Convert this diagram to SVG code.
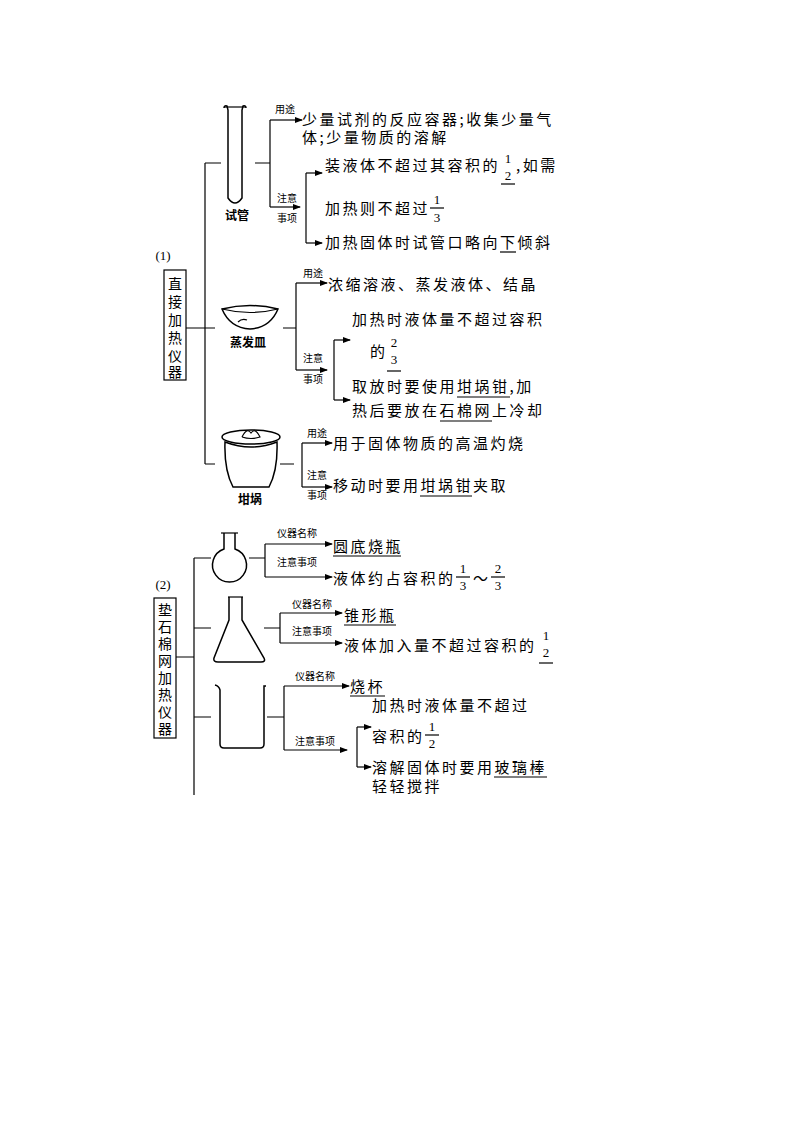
<svg xmlns="http://www.w3.org/2000/svg" width="794" height="1123" viewBox="0 0 794 1123">
<defs>
<marker id="ah" markerWidth="8" markerHeight="6" refX="7" refY="3" orient="auto" markerUnits="userSpaceOnUse"><path d="M0,0 L8,3 L0,6 Z" fill="#000"/></marker>
<style>
.l{stroke:#000;stroke-width:1.2;fill:none}
.a{stroke:#000;stroke-width:1.2;fill:none;marker-end:url(#ah)}
.s{stroke:#000;stroke-width:1.5;fill:#fff}
text{font-family:"Noto Sans CJK SC","Liberation Serif",serif;fill:#000}
.t{font-size:15px;letter-spacing:2.5px}
.f{font-size:13px;font-family:"Liberation Serif",serif}
.sm{font-size:10px}
.b{font-size:14px}
.lb{font-size:12px;font-weight:bold}
</style>
</defs>
<rect width="794" height="1123" fill="#fff"/>

<g id="connectors">
<path class="l" d="M186,328 H205 M205,163 V464 M205,163 H221 M205,328 H215 M205,464 H215"/>
<path class="l" d="M255,163 H270 M270,120 V207"/>
<path class="a" d="M270,120 H302"/>
<path class="a" d="M270,207 H300"/>
<path class="l" d="M306,173 V243"/>
<path class="a" d="M306,173 H322"/>
<path class="a" d="M306,243 H322"/>
<path class="l" d="M283,328 H296 M296,283 V370"/>
<path class="a" d="M296,283 H327"/>
<path class="a" d="M296,370 H327"/>
<path class="l" d="M334,340 V400"/>
<path class="a" d="M334,340 H350"/>
<path class="a" d="M334,400 H350"/>
<path class="l" d="M280,464 H294 M302,443 V487"/>
<path class="a" d="M302,443 H332"/>
<path class="a" d="M302,487 H332"/>
<path class="l" d="M176,657 H194 M194,558 V795 M194,558 H211 M194,628 H211 M194,717 H211"/>
<path class="l" d="M249,558 H265 M265,544 V577"/>
<path class="a" d="M265,544 H332"/>
<path class="a" d="M265,577 H332"/>
<path class="l" d="M264,628 H280 M280,613 V643"/>
<path class="a" d="M280,613 H342"/>
<path class="a" d="M280,643 H342"/>
<path class="l" d="M267,717 H284 M284,686 V750"/>
<path class="a" d="M284,686 H349"/>
<path class="a" d="M284,750 H347"/>
<path class="l" d="M357,727 V767"/>
<path class="a" d="M357,727 H371"/>
<path class="a" d="M357,767 H371"/>
</g>

<g id="section1">
<text class="f" x="163" y="260" text-anchor="middle" font-size="14">(1)</text>
<rect x="164" y="270" width="22" height="110" class="l"/>
<text class="b" x="175" y="289" text-anchor="middle">直</text>
<text class="b" x="175" y="307" text-anchor="middle">接</text>
<text class="b" x="175" y="325" text-anchor="middle">加</text>
<text class="b" x="175" y="343" text-anchor="middle">热</text>
<text class="b" x="175" y="361" text-anchor="middle">仪</text>
<text class="b" x="175" y="377" text-anchor="middle">器</text>
</g>

<g id="testtube">
<path class="s" d="M224,108 Q224,105 227,106 L228,110 V198 Q235,208 242,198 V110 L243,106 Q246,105 246,108"/>
<path class="l" d="M224,107 H246"/>
<text class="lb" x="237" y="220" text-anchor="middle">试管</text>
<text class="sm" x="285" y="113" text-anchor="middle">用途</text>
<text class="t" x="302" y="125">少量试剂的反应容器;收集少量气</text>
<text class="t" x="302" y="143">体;少量物质的溶解</text>
<text class="sm" x="287" y="202" text-anchor="middle">注意</text>
<text class="sm" x="287" y="222" text-anchor="middle">事项</text>
<text class="t" x="325" y="171">装液体不超过其容积的</text>
<text class="f" x="508" y="163" text-anchor="middle">1</text>
<text class="f" x="508" y="180" text-anchor="middle">2</text>
<path class="l" d="M501,184 H515"/>
<text class="t" x="516" y="171">,如需</text>
<text class="t" x="325" y="214">加热则不超过</text>
<text class="f" x="437" y="204" text-anchor="middle">1</text>
<path class="l" d="M430,208 H444"/>
<text class="f" x="437" y="222" text-anchor="middle">3</text>
<text class="t" x="325" y="248">加热固体时试管口略向下倾斜</text>
<path class="l" d="M500,252 H516"/>
</g>

<g id="dish">
<path class="s" d="M222,309 Q250,302 278,309 Q270,328 250,329 Q230,328 222,309 Z"/>
<path class="l" d="M222,309 Q250,316 278,309"/>
<path class="l" d="M238,322 Q242,318 247,320"/>
<text class="lb" x="248" y="347" text-anchor="middle">蒸发皿</text>
<text class="sm" x="313" y="277" text-anchor="middle">用途</text>
<text class="t" x="328" y="290">浓缩溶液、蒸发液体、结晶</text>
<text class="sm" x="313" y="362" text-anchor="middle">注意</text>
<text class="sm" x="313" y="383" text-anchor="middle">事项</text>
<text class="t" x="352" y="325">加热时液体量不超过容积</text>
<text class="t" x="370" y="357">的</text>
<text class="f" x="394" y="347" text-anchor="middle">2</text>
<text class="f" x="394" y="364" text-anchor="middle">3</text>
<path class="l" d="M387,371 H401"/>
<text class="t" x="352" y="392">取放时要使用坩埚钳,加</text>
<text class="t" x="352" y="416">热后要放在石棉网上冷却</text>
<path class="l" d="M457,397 H510 M440,421 H492"/>
</g>

<g id="crucible">
<ellipse cx="251" cy="437" rx="29" ry="7" class="s"/>
<path class="s" d="M225,442 Q224,470 233,487 H269 Q278,470 277,442 Q251,452 225,442 Z"/>
<path class="l" d="M242,437 Q247,427 251,433 Q255,427 260,437 Q251,440 242,437"/>
<text class="lb" x="250" y="504" text-anchor="middle">坩埚</text>
<text class="sm" x="317" y="437" text-anchor="middle">用途</text>
<text class="t" x="333" y="449">用于固体物质的高温灼烧</text>
<text class="sm" x="317" y="479" text-anchor="middle">注意</text>
<text class="sm" x="317" y="499" text-anchor="middle">事项</text>
<text class="t" x="333" y="491">移动时要用坩埚钳夹取</text>
<path class="l" d="M420,496 H472"/>
</g>

<g id="section2">
<text class="f" x="163" y="589" text-anchor="middle" font-size="14">(2)</text>
<rect x="154" y="598" width="22" height="140" class="l"/>
<text class="b" x="165" y="615" text-anchor="middle">垫</text>
<text class="b" x="165" y="632" text-anchor="middle">石</text>
<text class="b" x="165" y="649" text-anchor="middle">棉</text>
<text class="b" x="165" y="666" text-anchor="middle">网</text>
<text class="b" x="165" y="683" text-anchor="middle">加</text>
<text class="b" x="165" y="700" text-anchor="middle">热</text>
<text class="b" x="165" y="717" text-anchor="middle">仪</text>
<text class="b" x="165" y="734" text-anchor="middle">器</text>
</g>

<g id="flask">
<path class="s" d="M224,533 V549 A17,17 0 1 0 235,549 V533"/>
<path class="l" d="M221,533 H238"/>
<text class="sm" x="297" y="537" text-anchor="middle">仪器名称</text>
<text class="t" x="333" y="552">圆底烧瓶</text>
<path class="l" d="M333,556 H401"/>
<text class="sm" x="297" y="566" text-anchor="middle">注意事项</text>
<text class="t" x="333" y="584">液体约占容积的</text>
<text class="f" x="463" y="573" text-anchor="middle">1</text>
<path class="l" d="M456,577 H470"/>
<text class="f" x="463" y="590" text-anchor="middle">3</text>
<text class="t" x="473" y="584">～</text>
<text class="f" x="498" y="573" text-anchor="middle">2</text>
<path class="l" d="M491,577 H505"/>
<text class="f" x="498" y="590" text-anchor="middle">3</text>
</g>

<g id="conical">
<path class="s" d="M229,597 V620 L214,658 Q213,662 218,662 H261 Q266,662 264,658 L242,620 V597"/>
<path class="l" d="M228,597 H243"/>
<text class="sm" x="312" y="608" text-anchor="middle">仪器名称</text>
<text class="t" x="344" y="621">锥形瓶</text>
<path class="l" d="M344,625 H396"/>
<text class="sm" x="312" y="635" text-anchor="middle">注意事项</text>
<text class="t" x="344" y="651">液体加入量不超过容积的</text>
<text class="f" x="546" y="640" text-anchor="middle">1</text>
<text class="f" x="546" y="657" text-anchor="middle">2</text>
<path class="l" d="M539,663 H553"/>
</g>

<g id="beaker">
<path class="s" d="M215,685 Q219,686 220,690 V744 Q220,748 224,748 H260 Q264,748 264,744 V686 H266"/>
<text class="sm" x="315" y="680" text-anchor="middle">仪器名称</text>
<text class="t" x="350" y="692">烧杯</text>
<path class="l" d="M350,696 H385"/>
<text class="t" x="372" y="711">加热时液体量不超过</text>
<text class="sm" x="315" y="745" text-anchor="middle">注意事项</text>
<text class="t" x="372" y="742">容积的</text>
<text class="f" x="432" y="731" text-anchor="middle">1</text>
<path class="l" d="M425,735 H439"/>
<text class="f" x="432" y="748" text-anchor="middle">2</text>
<text class="t" x="372" y="773">溶解固体时要用玻璃棒</text>
<path class="l" d="M494,777 H547"/>
<text class="t" x="372" y="792">轻轻搅拌</text>
</g>
</svg>
